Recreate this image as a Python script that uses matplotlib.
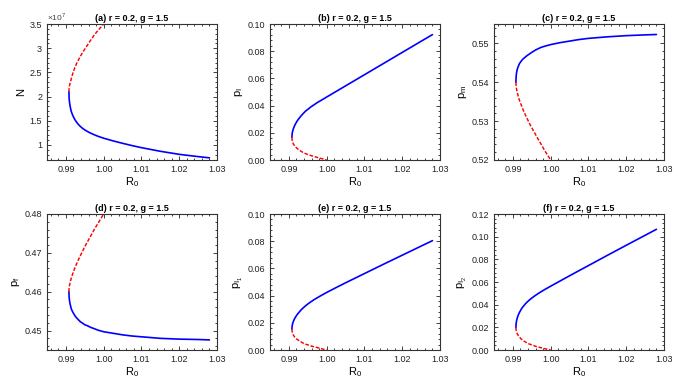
import matplotlib
matplotlib.use("Agg")
import matplotlib.pyplot as plt
from matplotlib.ticker import AutoMinorLocator, FormatStrFormatter, FuncFormatter, MultipleLocator

# ---------------- data ----------------
r0_stable = [0.9908, 0.99085, 0.9909, 0.99095, 0.9910, 0.9911, 0.9912, 0.9914,
             0.9916, 0.9918, 0.9921, 0.9924, 0.9928, 0.9933, 0.9938, 0.9944,
             0.9950, 0.9958, 0.9966, 0.9975, 0.9985, 1.000, 1.0025, 1.005,
             1.0075, 1.010, 1.015, 1.020, 1.025, 1.028]
r0_unstable = [0.9908, 0.99085, 0.9909, 0.99095, 0.9910, 0.9911, 0.9912, 0.9914,
               0.9916, 0.9918, 0.9921, 0.9924, 0.9928, 0.9933, 0.9938, 0.9944,
               0.9950, 0.9958, 0.9966, 0.9975, 0.9985, 1.000]

# (a) N
n_stable = [2.10e7, 1.98e7, 1.93e7, 1.89e7, 1.86e7, 1.81e7, 1.77e7, 1.70e7,
            1.655e7, 1.615e7, 1.565e7, 1.522e7, 1.475e7, 1.425e7, 1.385e7, 1.345e7,
            1.312e7, 1.275e7, 1.243e7, 1.212e7, 1.18e7, 1.14e7, 1.085e7, 1.035e7,
            0.988e7, 0.945e7, 0.87e7, 0.807e7, 0.76e7, 0.735e7]
n_unstable = [2.10e7, 2.171e7, 2.20e7, 2.222e7, 2.241e7, 2.273e7, 2.30e7, 2.36e7,
              2.417e7, 2.473e7, 2.54e7, 2.604e7, 2.677e7, 2.755e7, 2.829e7, 2.907e7,
              2.981e7, 3.076e7, 3.17e7, 3.271e7, 3.367e7, 3.50e7]
# (b) p_I
pI_stable = [0.0167, 0.0190, 0.0199, 0.0206, 0.0212, 0.0222, 0.0231, 0.0245,
             0.0258, 0.0268, 0.0283, 0.0295, 0.0310, 0.0327, 0.0342, 0.0359,
             0.0372, 0.0390, 0.0405, 0.0422, 0.0438, 0.0463, 0.0504, 0.0545,
             0.0586, 0.0627, 0.0709, 0.0791, 0.0873, 0.0922]
pI_unstable = [0.0167, 0.0149, 0.0141, 0.0136, 0.0130, 0.0124, 0.0118, 0.0109,
               0.0101, 0.0095, 0.0087, 0.0080, 0.0072, 0.0063, 0.0054, 0.0047,
               0.0041, 0.0033, 0.0026, 0.0019, 0.0011, 0.0]
# (c) p_m
pm_stable = [0.5400, 0.5413, 0.5419, 0.5423, 0.5426, 0.5431, 0.5435, 0.5440,
             0.5445, 0.5449, 0.5453, 0.5457, 0.5461, 0.5465, 0.5469, 0.5473,
             0.5477, 0.5482, 0.5486, 0.5490, 0.5493, 0.5497, 0.5502, 0.5506,
             0.5510, 0.5513, 0.5517, 0.5520, 0.5522, 0.5523]
pm_unstable = [0.5400, 0.5391, 0.5387, 0.5384, 0.5381, 0.5376, 0.5372, 0.5365,
               0.5358, 0.5352, 0.5344, 0.5337, 0.5327, 0.5316, 0.5306, 0.5294,
               0.5283, 0.5269, 0.5255, 0.5240, 0.5223, 0.5200]
# (d) p_f
pf_stable = [0.4600, 0.4587, 0.4582, 0.4578, 0.4574, 0.4569, 0.4565, 0.4557,
             0.4552, 0.4548, 0.4543, 0.4538, 0.4533, 0.4528, 0.4523, 0.4519,
             0.4515, 0.4512, 0.4508, 0.4505, 0.4501, 0.4497, 0.4493, 0.4489,
             0.4486, 0.4484, 0.4480, 0.4478, 0.4477, 0.4476]
pf_unstable = [0.4600, 0.4609, 0.4613, 0.4616, 0.4618, 0.4623, 0.4627, 0.4634,
               0.4640, 0.4646, 0.4654, 0.4662, 0.4671, 0.4682, 0.4692, 0.4704,
               0.4716, 0.4730, 0.4744, 0.4760, 0.4776, 0.4800]
# (e) p_I1
pI1_stable = [0.0154, 0.0174, 0.0183, 0.0189, 0.0194, 0.0203, 0.0211, 0.0224,
              0.0235, 0.0244, 0.0257, 0.0268, 0.0281, 0.0297, 0.0310, 0.0325,
              0.0338, 0.0354, 0.0369, 0.0384, 0.0400, 0.0423, 0.0459, 0.0494,
              0.0528, 0.0562, 0.0630, 0.0697, 0.0764, 0.0804]
pI1_unstable = [0.0154, 0.0137, 0.0130, 0.0125, 0.0120, 0.0114, 0.0109, 0.0101,
                0.0093, 0.0088, 0.0080, 0.0074, 0.0066, 0.0058, 0.0050, 0.0043,
                0.0038, 0.0030, 0.0024, 0.0018, 0.0010, 0.0]
# (f) p_I2
pI2_stable = [0.0199, 0.0230, 0.0243, 0.0253, 0.0261, 0.0275, 0.0287, 0.0306,
              0.0322, 0.0335, 0.0353, 0.0370, 0.0387, 0.0407, 0.0424, 0.0442,
              0.0458, 0.0478, 0.0496, 0.0515, 0.0535, 0.0563, 0.0609, 0.0655,
              0.0700, 0.0745, 0.0835, 0.0924, 0.1012, 0.1065]
pI2_unstable = [0.0199, 0.0178, 0.0168, 0.0162, 0.0155, 0.0148, 0.0141, 0.0130,
                0.0121, 0.0113, 0.0100, 0.0092, 0.0082, 0.0071, 0.0061, 0.0052,
                0.0045, 0.0035, 0.0027, 0.0020, 0.0011, 0.0]

titles = ["(a) r = 0.2, g = 1.5", "(b) r = 0.2, g = 1.5", "(c) r = 0.2, g = 1.5",
          "(d) r = 0.2, g = 1.5", "(e) r = 0.2, g = 1.5", "(f) r = 0.2, g = 1.5"]
ylabels = [r"$\mathregular{N}$", r"$\mathregular{p_I}$", r"$\mathregular{p_m}$",
           r"$\mathregular{p_f}$", r"$\mathregular{p_{I_1}}$", r"$\mathregular{p_{I_2}}$"]
stable_sets = [n_stable, pI_stable, pm_stable, pf_stable, pI1_stable, pI2_stable]
unstable_sets = [n_unstable, pI_unstable, pm_unstable, pf_unstable, pI1_unstable, pI2_unstable]
ylims = [(0.69e7, 3.5e7), (0.0, 0.10), (0.52, 0.555), (0.445, 0.48), (0.0, 0.10), (0.0, 0.12)]
ymajor = [0.5e7, 0.02, 0.01, 0.01, 0.02, 0.02]
xlim = (0.985, 1.03)
xticks = [0.99, 1.00, 1.01, 1.02, 1.03]

# ---------------- figure ----------------
plt.rcParams['font.family'] = ['Liberation Sans', 'DejaVu Sans']
plt.rcParams['mathtext.fontset'] = 'custom'
plt.rcParams['mathtext.rm'] = 'Liberation Sans'

fig = plt.figure(figsize=(6.88, 3.84), dpi=100)
W, H = 688.0, 384.0
lefts = [47, 270, 494]
tops = [24, 214]
aw, ah = 170, 136

for i in range(6):
    row, col = divmod(i, 3)
    ax = fig.add_axes([lefts[col] / W, 1 - (tops[row] + ah) / H, aw / W, ah / H])
    ax.plot(r0_stable, stable_sets[i], color='#0000ff', lw=1.2,
            solid_capstyle='round', solid_joinstyle='round')
    ax.plot(r0_unstable, unstable_sets[i], color='#ff0000', lw=1.05,
            linestyle=(0, (2.5, 1.2)))
    ax.set_xlim(*xlim)
    ax.set_ylim(*ylims[i])
    ax.set_xticks(xticks)
    ax.xaxis.set_major_formatter(FormatStrFormatter('%.2f'))
    ax.yaxis.set_major_locator(MultipleLocator(ymajor[i]))
    if i == 0:
        ax.yaxis.set_major_formatter(FuncFormatter(lambda v, p: '%g' % (v / 1e7)))
        ax.text(0.0, 1.005, r'$\times10^{7}$', transform=ax.transAxes,
                fontsize=6, color='#444444', ha='left', va='bottom')
    else:
        ax.yaxis.set_major_formatter(FormatStrFormatter('%.2f'))
    ax.xaxis.set_minor_locator(AutoMinorLocator(5))
    ax.yaxis.set_minor_locator(AutoMinorLocator(5))
    ax.tick_params(which='both', direction='in', top=True, right=True,
                   labelsize=6.5, colors='#222222', width=0.6)
    ax.tick_params(which='major', length=3)
    ax.tick_params(which='minor', length=1.6)
    for s in ax.spines.values():
        s.set_linewidth(0.8)
        s.set_color('#333333')
    ax.set_title(titles[i], fontsize=6.5, fontweight='bold', pad=2)
    ax.set_xlabel(r"$\mathregular{R_0}$", fontsize=8, labelpad=1)
    ax.set_ylabel(ylabels[i], fontsize=8, labelpad=2)

fig.savefig("out.png", dpi=100)
